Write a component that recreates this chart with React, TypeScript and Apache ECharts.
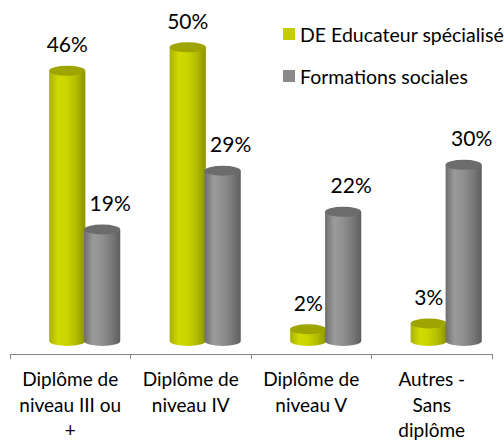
import React, { useEffect, useRef } from "react";
import * as echarts from "echarts";

const categories = [
  "Diplôme de\nniveau III ou\n+",
  "Diplôme de\nniveau IV",
  "Diplôme de\nniveau V",
  "Autres -\nSans\ndiplôme",
];
const seriesNames = ["DE Educateur spécialisé", "Formations sociales"];
const deEducateur = [46, 50, 2, 3];
const formationsSociales = [19, 29, 22, 30];

const FONT = "Lato, 'Noto Sans', sans-serif";

type Palette = { top: string; stops: string[] };
const greenPal: Palette = {
  top: "#9ea500",
  stops: ["#a9b100", "#d0da00", "#c9d300", "#b3bb00", "#8c9200"],
};
const greyPal: Palette = {
  top: "#6c6c6c",
  stops: ["#6e6e6e", "#9a9a9a", "#8f8f8f", "#7a7a7a", "#5e5e5e"],
};

function makeRender(offsetFrac: number, widthFrac: number, pal: Palette, labelDx: number) {
  return (params: any, api: any) => {
    const cat = api.value(0);
    const v = api.value(1);
    const base = api.coord([cat, 0]);
    const top = api.coord([cat, v]);
    const band = api.size([1, 0])[0];
    const w = band * widthFrac;
    const cx = base[0] + band * offsetFrac;
    const rx = w / 2;
    const ry = 5;
    const x0 = cx - rx;
    const x1 = cx + rx;
    const yt = top[1];
    const yb = base[1];
    const grad = {
      type: "linear",
      x: 0,
      y: 0,
      x2: 1,
      y2: 0,
      colorStops: pal.stops.map((c, i) => ({ offset: i / (pal.stops.length - 1), color: c })),
    };
    return {
      type: "group",
      children: [
        {
          type: "path",
          shape: {
            pathData: `M${x0} ${yt} L${x0} ${yb} A${rx} ${ry} 0 0 0 ${x1} ${yb} L${x1} ${yt} Z`,
          },
          style: { fill: grad },
        },
        {
          type: "path",
          shape: {
            pathData: `M${x0} ${yt} A${rx} ${ry} 0 0 1 ${x1} ${yt} A${rx} ${ry} 0 0 1 ${x0} ${yt} Z`,
          },
          style: { fill: pal.top },
        },
        {
          type: "text",
          x: cx + labelDx,
          y: yt - 27,
          style: {
            text: v + "%",
            fontSize: 21,
            fontFamily: FONT,
            fill: "#000",
            align: "center",
            verticalAlign: "middle",
          },
        },
      ],
    };
  };
}

export default function App() {
  const ref = useRef<HTMLDivElement>(null);
  useEffect(() => {
    if (!ref.current) return;
    const chart = echarts.init(ref.current, null, { renderer: "svg" });
    chart.setOption({
      animation: false,
      backgroundColor: "#fff",
      grid: { left: 10, right: 12, top: 18, bottom: 88, outerBoundsMode: "none", containLabel: false },
      legend: {
        orient: "vertical",
        left: 283,
        top: 24,
        padding: 0,
        itemWidth: 12,
        itemHeight: 12,
        itemGap: 22,
        textStyle: { fontSize: 19.5, fontFamily: FONT, color: "#000" },
        data: [
          { name: seriesNames[0], icon: "rect", itemStyle: { color: "#c3cd00" } },
          { name: seriesNames[1], icon: "rect", itemStyle: { color: "#8a8a8a" } },
        ],
      },
      xAxis: {
        type: "category",
        data: categories,
        boundaryGap: true,
        axisLine: { onZero: false, lineStyle: { color: "#868686", width: 1 } },
        axisTick: { show: true, length: 5, lineStyle: { color: "#868686" } },
        axisLabel: {
          interval: 0,
          margin: 12,
          fontSize: 19,
          lineHeight: 25.5,
          fontFamily: FONT,
          color: "#000",
        },
      },
      yAxis: {
        type: "value",
        min: -2.2,
        max: 55,
        show: false,
        splitLine: { show: false },
      },
      series: [
        {
          name: seriesNames[0],
          type: "custom",
          itemStyle: { color: "#c3cd00" },
          renderItem: makeRender(-0.025, 0.3, greenPal, 0),
          data: deEducateur.map((v, i) => [i, v]),
        },
        {
          name: seriesNames[1],
          type: "custom",
          itemStyle: { color: "#8a8a8a" },
          renderItem: makeRender(0.265, 0.3, greyPal, 8),
          data: formationsSociales.map((v, i) => [i, v]),
        },
      ],
    });
    return () => chart.dispose();
  }, []);
  return <div ref={ref} style={{ width: 504, height: 442, position: "absolute", left: 0, top: 0 }} />;
}
